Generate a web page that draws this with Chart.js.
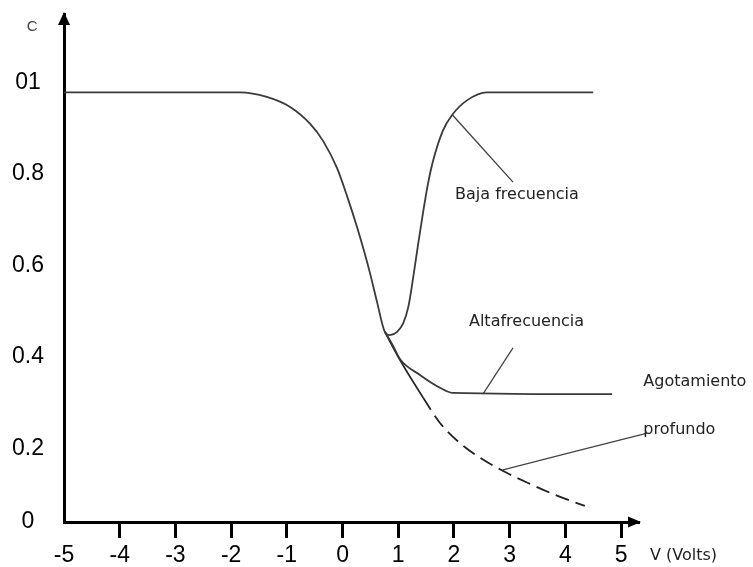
<!DOCTYPE html>
<html>
<head>
<meta charset="utf-8">
<script src="https://cdn.jsdelivr.net/npm/chart.js@4.4.1/dist/chart.umd.min.js"></script>
<style>
  html, body { margin: 0; padding: 0; background: #fff; }
  canvas { display: block; }
</style>
</head>
<body>
<canvas id="myChart" width="753" height="567"></canvas>
<script>
// tick labels
const xTicks = [-5, -4, -3, -2, -1, 0, 1, 2, 3, 4, 5];
const xTickLabels = ['-5', '-4', '-3', '-2', '-1', '0', '1', '2', '3', '4', '5'];
const yTicks = [0.04, 0.2, 0.4, 0.6, 0.8, 1.0];
const yTickLabels = ['0', '0.2', '0.4', '0.6', '0.8', '01'];

// shared part of the C-V curve (V, C)
const commonV = [-5, -1.84, -1.36, -0.94, -0.58, -0.35, -0.10, 0.08, 0.26, 0.39, 0.49, 0.62, 0.76];
const commonC = [0.978, 0.978, 0.968, 0.946, 0.909, 0.872, 0.813, 0.752, 0.684, 0.630, 0.585, 0.520, 0.455];

// baja frecuencia
const lowV = [0.85, 0.98, 1.09, 1.18, 1.27, 1.36, 1.45, 1.53, 1.62, 1.80, 1.97, 2.24, 2.59, 4.50];
const lowC = [0.448, 0.455, 0.474, 0.509, 0.575, 0.649, 0.719, 0.776, 0.826, 0.894, 0.929, 0.961, 0.978, 0.978];

// alta frecuencia
const highV = [0.76, 0.91, 1.03, 1.39, 1.75, 1.97, 4.84];
const highC = [0.455, 0.424, 0.396, 0.361, 0.333, 0.322, 0.319];

// agotamiento profundo
const deepV = [0.76, 1.03, 1.45, 1.75, 2.11, 2.47, 2.92, 3.37, 3.82, 4.35];
const deepC = [0.455, 0.394, 0.311, 0.256, 0.212, 0.180, 0.149, 0.123, 0.099, 0.075];

function pts(vs, cs) {
    return vs.map((v, i) => ({ x: v, y: cs[i] }));
}

// leader lines and notes, in axis units
const leaders = [
    [[1.97, 0.929], [3.06, 0.782]],
    [[2.52, 0.319], [3.06, 0.420]],
    [[2.88, 0.154], [5.47, 0.234]]
];
const notes = [
    ['Baja frecuencia', 2.02, 0.754],
    ['Altafrecuencia', 2.27, 0.477],
    ['Agotamiento', 5.40, 0.346],
    ['profundo', 5.40, 0.241]
];

const curveColor = '#3a3a3a';

const datasets = [
    {
        label: 'Baja frecuencia',
        data: pts(commonV.concat(lowV), commonC.concat(lowC)),
        borderColor: curveColor,
        borderWidth: 1.8
    },
    {
        label: 'Alta frecuencia',
        data: pts(highV, highC),
        borderColor: curveColor,
        borderWidth: 1.8
    },
    {
        label: 'Agotamiento profundo',
        data: pts(deepV, deepC),
        borderColor: '#222',
        borderWidth: 1.8,
        segment: {
            borderDash: ctx => ctx.p0.parsed.x >= 1.4 ? [14, 7] : undefined
        }
    }
];
leaders.forEach(l => {
    datasets.push({
        data: l.map(p => ({ x: p[0], y: p[1] })),
        borderColor: '#444',
        borderWidth: 1.3,
        tension: 0,
        clip: false
    });
});

const decorations = {
    id: 'decorations',
    afterDraw(chart) {
        const { ctx, chartArea, scales: { x, y } } = chart;
        ctx.save();
        ctx.fillStyle = '#000';
        // arrow heads
        ctx.beginPath();
        ctx.moveTo(chartArea.left, chartArea.top - 2);
        ctx.lineTo(chartArea.left - 6, chartArea.top + 11);
        ctx.lineTo(chartArea.left + 6, chartArea.top + 11);
        ctx.closePath();
        ctx.fill();
        ctx.beginPath();
        ctx.moveTo(chartArea.right + 1, chartArea.bottom);
        ctx.lineTo(chartArea.right - 12, chartArea.bottom - 5.5);
        ctx.lineTo(chartArea.right - 12, chartArea.bottom + 5.5);
        ctx.closePath();
        ctx.fill();

        ctx.textBaseline = 'middle';
        ctx.textAlign = 'left';
        ctx.font = '16px "DejaVu Sans"';
        ctx.fillStyle = '#222';
        notes.forEach(n => {
            ctx.fillText(n[0], x.getPixelForValue(n[1]), y.getPixelForValue(n[2]));
        });
        ctx.fillText('V (Volts)', x.getPixelForValue(5.52), y.getPixelForValue(-0.034));

        ctx.textAlign = 'center';
        ctx.font = '15px "Liberation Sans"';
        ctx.fillStyle = '#444';
        ctx.fillText('C', x.getPixelForValue(-5.57), y.getPixelForValue(1.121));
        ctx.restore();
    }
};

const ctx = document.getElementById('myChart').getContext('2d');

const myChart = new Chart(ctx, {
    type: 'line',
    data: { datasets: datasets },
    options: {
        responsive: false,
        animation: false,
        devicePixelRatio: 1,
        layout: { padding: { left: 0, right: 113, top: 14, bottom: 0 } },
        elements: {
            point: { radius: 0 },
            line: { cubicInterpolationMode: 'monotone' }
        },
        plugins: {
            legend: { display: false },
            tooltip: { enabled: false }
        },
        scales: {
            x: {
                type: 'linear',
                min: -5,
                max: 5.34,
                afterBuildTicks: s => { s.ticks = xTicks.map(v => ({ value: v })); },
                afterFit: s => { s.height = 45; },
                border: { display: true, color: '#000', width: 3 },
                grid: {
                    drawOnChartArea: false,
                    tickLength: 16,
                    tickColor: '#000',
                    tickWidth: c => (c.tick && c.tick.value === -5) ? 0 : 3,
                    lineWidth: c => (c.tick && c.tick.value === -5) ? 0 : 3
                },
                ticks: {
                    autoSkip: false,
                    maxRotation: 0,
                    padding: 4,
                    color: '#000',
                    font: { family: 'Liberation Sans', size: 23 },
                    callback: (v, i) => xTickLabels[i]
                }
            },
            y: {
                type: 'linear',
                min: 0.04,
                max: 1.149,
                afterBuildTicks: s => { s.ticks = yTicks.map(v => ({ value: v })); },
                afterFit: s => { s.width = 64; },
                border: { display: true, color: '#000', width: 3 },
                grid: {
                    drawOnChartArea: false,
                    drawTicks: true,
                    tickLength: 20,
                    tickWidth: 0,
                    tickColor: 'rgba(0,0,0,0)'
                },
                ticks: {
                    padding: 0,
                    crossAlign: 'center',
                    color: '#000',
                    font: { family: 'Liberation Sans', size: 23 },
                    callback: (v, i) => yTickLabels[i]
                }
            }
        }
    },
    plugins: [decorations]
});
</script>
</body>
</html>
